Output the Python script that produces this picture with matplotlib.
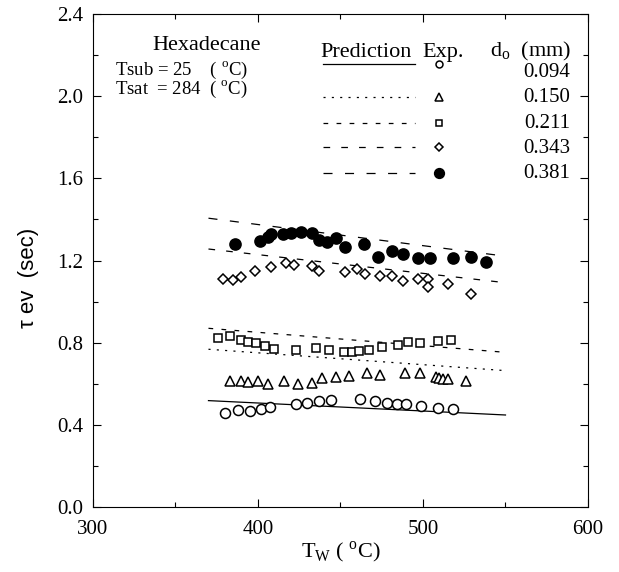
import matplotlib
matplotlib.use("Agg")
import matplotlib.pyplot as plt
from matplotlib.ticker import MultipleLocator

plt.rcParams["font.family"] = ["Liberation Serif", "DejaVu Serif"]
plt.rcParams["mathtext.fontset"] = "custom"
plt.rcParams["mathtext.rm"] = "Liberation Serif"
plt.rcParams["lines.scale_dashes"] = False

# experimental points, Tw (C) vs evaporation time (s), one series per nozzle diameter
tw_094 = [380, 388, 395, 402, 407, 423, 430, 437, 444, 462, 471, 478, 484, 490, 499, 509, 518]
tau_094 = [0.459, 0.472, 0.467, 0.477, 0.485, 0.500, 0.505, 0.516, 0.521, 0.524, 0.516,
           0.508, 0.500, 0.500, 0.493, 0.483, 0.477]

tw_150 = [383, 390, 394, 400, 406, 416, 424, 433, 439, 447, 455, 466, 474, 489, 498, 508,
          510, 512, 515, 526]
tau_150 = [0.613, 0.613, 0.610, 0.613, 0.597, 0.613, 0.599, 0.605, 0.630, 0.634, 0.639,
           0.654, 0.643, 0.651, 0.651, 0.634, 0.627, 0.623, 0.623, 0.615]

tw_211 = [376, 383, 390, 394, 399, 404, 410, 423, 435, 443, 452, 457, 461, 467, 475, 485,
          491, 498, 509, 517]
tau_211 = [0.821, 0.833, 0.813, 0.802, 0.800, 0.785, 0.768, 0.764, 0.773, 0.764, 0.756,
           0.756, 0.761, 0.764, 0.778, 0.789, 0.802, 0.800, 0.808, 0.813]

tw_343 = [379, 385, 390, 398, 408, 417, 422, 433, 437, 453, 460, 465, 474, 481, 488, 497,
          503, 503, 515, 529]
tau_343 = [1.109, 1.105, 1.121, 1.149, 1.170, 1.186, 1.178, 1.175, 1.149, 1.146, 1.157,
           1.133, 1.125, 1.125, 1.102, 1.109, 1.109, 1.070, 1.086, 1.037]

tw_381 = [386, 401, 406, 408, 415, 420, 426, 433, 437, 442, 447, 453, 464, 473, 481, 488,
          497, 504, 518, 529, 538]
tau_381 = [1.280, 1.295, 1.316, 1.329, 1.329, 1.333, 1.340, 1.333, 1.300, 1.292, 1.308,
           1.267, 1.279, 1.219, 1.248, 1.232, 1.211, 1.211, 1.211, 1.219, 1.191]

# prediction lines (end points)
pred_tw = [370, 550]
pred_094 = [0.518, 0.448]
pred_150 = [0.768, 0.664]
pred_211 = [0.870, 0.753]
pred_343 = [1.256, 1.092]
pred_381 = [1.406, 1.221]

diam_labels = ["0.094", "0.150", "0.211", "0.343", "0.381"]

series = [
    (tw_094, tau_094, pred_094, "o", "white", 7.2, 5.0, "-"),
    (tw_150, tau_150, pred_150, "^", "white", 7.4, 5.2, (0, (1.5, 4.5))),
    (tw_211, tau_211, pred_211, "s", "white", 5.3, 3.9, (0, (3.4, 6.0))),
    (tw_343, tau_343, pred_343, "D", "white", 5.0, 3.6, (0, (4.8, 8.0))),
    (tw_381, tau_381, pred_381, "o", "black", 8.0, 7.0, (0, (6.5, 9.0))),
]

fig = plt.figure(figsize=(6.19, 5.72), dpi=100)
ax = fig.add_axes([0.1502, 0.1136, 0.7997, 0.8619])

for tw, tau, pred, mk, fc, ms, _, ls in series:
    ax.plot(pred_tw, pred, color="black", lw=0.9, linestyle=ls)
    ax.plot(tw, tau, linestyle="none", marker=mk, ms=ms, mfc=fc, mec="black", mew=1.1)

ax.set_xlim(300, 600)
ax.set_ylim(0.0, 2.4)
ax.xaxis.set_major_locator(MultipleLocator(100))
ax.xaxis.set_minor_locator(MultipleLocator(50))
ax.yaxis.set_major_locator(MultipleLocator(0.4))
ax.yaxis.set_minor_locator(MultipleLocator(0.2))
ax.yaxis.set_major_formatter(plt.FuncFormatter(lambda v, p: f"{v:.1f}"))
ax.tick_params(which="both", direction="in", top=True, right=True, width=0.8)
ax.tick_params(which="major", length=6, labelsize=15)
ax.tick_params(axis="x", which="major", pad=9)
ax.tick_params(axis="y", which="major", pad=7)
ax.tick_params(which="minor", length=3.5)
for sp in ax.spines.values():
    sp.set_linewidth(0.8)

ax.set_xlabel(r"T$_{\mathrm{W}}$ ( $^{\mathrm{o}}$C)", fontsize=16, labelpad=1)
ax.set_ylabel("\u03c4 ev  (sec)", fontsize=16, family=["Liberation Sans", "DejaVu Sans"])
ax.yaxis.set_label_coords(-0.109, 0.465)

# text block at upper left
tr = ax.transAxes
ax.text(0.230, 0.937, "Hexadecane", transform=tr, ha="center", va="center", fontsize=16)
ax.text(0.044, 0.886, r"Tsub = 25    ( $^{\mathrm{o}}$C)", transform=tr, ha="left",
        va="center", fontsize=13.5)
ax.text(0.044, 0.846, r"Tsat  = 284  ( $^{\mathrm{o}}$C)", transform=tr, ha="left",
        va="center", fontsize=13.5)

# hand-built legend table
ax.text(0.459, 0.913, "Prediction", transform=tr, ha="left", va="baseline", fontsize=16)
ax.text(0.665, 0.913, "Exp.", transform=tr, ha="left", va="baseline", fontsize=16)
ax.text(0.802, 0.913, r"d$_{\mathrm{o}}$  (mm)", transform=tr, ha="left", va="baseline",
        fontsize=16)
row_y = [0.899, 0.832, 0.779, 0.730, 0.677]
txt_y = [0.872, 0.821, 0.769, 0.718, 0.667]
for (tw, tau, pred, mk, fc, _, lms, ls), ry, ty, lab in zip(series, row_y, txt_y, diam_labels):
    ax.plot([0.465, 0.651], [ry, ry], transform=tr, color="black", lw=0.9, linestyle=ls)
    ax.plot([0.699], [ry], transform=tr, linestyle="none", marker=mk, ms=lms, mfc=fc,
            mec="black", mew=1.1)
    ax.text(0.964, ty, lab, transform=tr, ha="right", va="baseline", fontsize=15)

fig.savefig("out.png", dpi=100)
